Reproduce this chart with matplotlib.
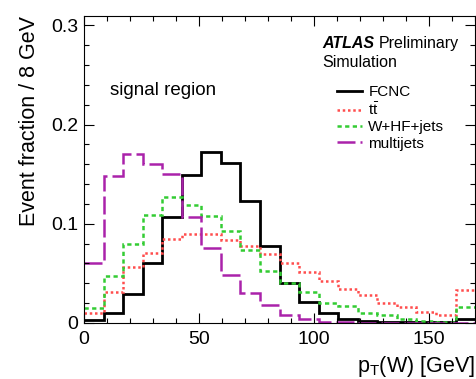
import numpy as np
import matplotlib
matplotlib.use("Agg")
import matplotlib.pyplot as plt
from matplotlib.ticker import MultipleLocator

plt.rcParams['font.family'] = ['Liberation Sans', 'DejaVu Sans']
plt.rcParams['mathtext.fontset'] = 'custom'
plt.rcParams['mathtext.rm'] = 'Liberation Sans'
plt.rcParams['mathtext.it'] = 'Liberation Sans:italic'
plt.rcParams['mathtext.bf'] = 'Liberation Sans:bold'

# bin edges (20 bins over 0-170)
edges = np.linspace(0, 170, 21)

fcnc = [0.003, 0.010, 0.029, 0.060, 0.107, 0.149, 0.172, 0.161, 0.123, 0.078,
        0.040, 0.021, 0.010, 0.004, 0.0015, 0.001, 0.0006, 0.0006, 0.001, 0.004]
ttbar = [0.010, 0.031, 0.056, 0.071, 0.085, 0.090, 0.090, 0.084, 0.078, 0.069,
         0.060, 0.051, 0.042, 0.034, 0.028, 0.0205, 0.0165, 0.0114, 0.008, 0.033]
whf = [0.015, 0.047, 0.080, 0.109, 0.127, 0.119, 0.108, 0.093, 0.074, 0.052,
       0.040, 0.031, 0.020, 0.0175, 0.0104, 0.008, 0.004, 0.002, 0.001, 0.0165]
multijets = [0.060, 0.148, 0.170, 0.160, 0.150, 0.107, 0.076, 0.048, 0.030, 0.018,
             0.008, 0.004, 0.0013, 0.0005, 0.0003, 0.0002, 0.0002, 0.0002, 0.0002, 0.0002]

labels = ['FCNC', r'$\mathrm{t\bar{t}}$', 'W+HF+jets', 'multijets']

fig = plt.figure(figsize=(4.77, 3.79), dpi=100)
ax = fig.add_axes([0.176, 0.148, 0.820, 0.811])

ax.stairs(fcnc, edges, color='black', lw=2.0, label=labels[0], baseline=None)
ax.stairs(ttbar, edges, color='#ff4d4d', lw=1.8, linestyle=(0, (1, 1.1)), label=labels[1], baseline=None)
ax.stairs(whf, edges, color='#33cc33', lw=1.8, linestyle=(0, (1.7, 1.35)), label=labels[2], baseline=None)
ax.stairs(multijets, edges, color='#aa22aa', lw=1.8, linestyle=(0, (7.2, 2)), label=labels[3], baseline=None)

ax.set_xlim(0, 170)
ax.set_ylim(0, 0.31)
ax.xaxis.set_major_locator(MultipleLocator(50))
ax.xaxis.set_minor_locator(MultipleLocator(10))
ax.yaxis.set_major_locator(MultipleLocator(0.1))
ax.yaxis.set_minor_locator(MultipleLocator(0.02))
ax.set_yticks([0, 0.1, 0.2, 0.3])
ax.set_yticklabels(['0', '0.1', '0.2', '0.3'])
ax.tick_params(which='both', direction='in', top=True, right=True, labelsize=14)
ax.tick_params(which='major', length=7, width=0.8)
ax.tick_params(which='minor', length=3.5, width=0.8)
ax.tick_params(axis='x', pad=6)
ax.tick_params(axis='y', pad=4)

ax.set_ylabel('Event fraction / 8 GeV', fontsize=15.5, loc='top', labelpad=8)
ax.set_xlabel(r'p$_{\mathrm{T}}$(W) [GeV]', fontsize=15.5, loc='right', labelpad=4)

ax.text(0.066, 0.742, 'signal region', transform=ax.transAxes, fontsize=13.5)
ax.text(0.609, 0.895, 'ATLAS', transform=ax.transAxes, fontsize=11.5,
        fontweight='bold', fontstyle='italic')
ax.text(0.754, 0.895, 'Preliminary', transform=ax.transAxes, fontsize=11.5)
ax.text(0.609, 0.832, 'Simulation', transform=ax.transAxes, fontsize=11.5)

ax.legend(loc='upper left', bbox_to_anchor=(0.647, 0.774), frameon=False,
          fontsize=11, handlelength=1.65, handletextpad=0.4, labelspacing=0.15,
          borderpad=0, borderaxespad=0)

fig.savefig('out.png', dpi=100)
